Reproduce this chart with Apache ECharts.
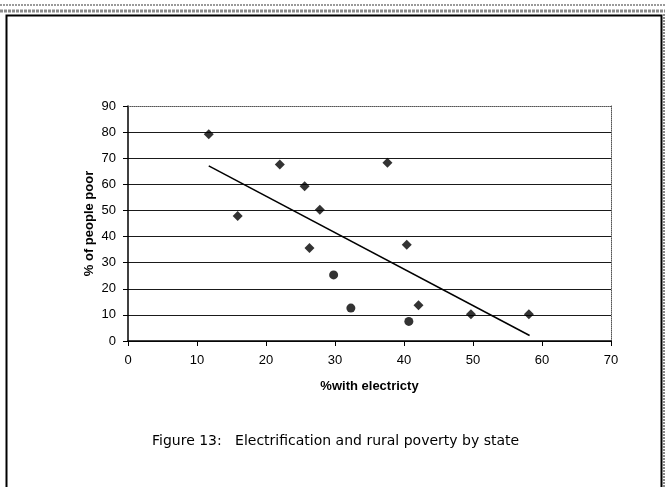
<!DOCTYPE html>
<html>
<head>
<meta charset="utf-8">
<script src="https://cdn.jsdelivr.net/npm/echarts@6/dist/echarts.min.js"></script>
<style>
  html, body { margin: 0; padding: 0; background: #fff; }
  #chart { width: 665px; height: 487px; }
</style>
</head>
<body>
<div id="chart"></div>
<script>
// Diamond-marked states: [% with electricity, % of people poor]
const diamondX = [11.7, 15.9, 22.0, 25.6, 27.8, 26.3, 37.6, 40.4, 42.1, 49.7, 58.1];
const diamondY = [79.2, 47.9, 67.6, 59.3, 50.3, 35.6, 68.3, 36.9, 13.7, 10.2, 10.2];
// Circle-marked states
const circleX = [29.8, 32.3, 40.7];
const circleY = [25.3, 12.6, 7.5];
// Linear trend line end points
const trendX = [11.7, 58.2];
const trendY = [67.1, 2.1];
// Axes
const xTicks = [0, 10, 20, 30, 40, 50, 60, 70];
const yTicks = [0, 10, 20, 30, 40, 50, 60, 70, 80, 90];
const xTitle = '%with electricty';
const yTitle = '% of people poor';
const caption = 'Figure 13:   Electrification and rural poverty by state';

const pairs = (xs, ys) => xs.map((x, i) => [x, ys[i]]);

const chart = echarts.init(document.getElementById('chart'), null, { renderer: 'canvas' });
const font = 'Liberation Sans, Arial, sans-serif';

// grid lines black, the top one (at 90) is left to the dotted frame
const splitColors = yTicks.map((t, i) => (i === yTicks.length - 1 ? 'rgba(0,0,0,0)' : '#1a1a1a'));

chart.setOption({
  animation: false,
  backgroundColor: '#ffffff',
  grid: { left: 128, right: 54, top: 106, bottom: 146, containLabel: false },
  xAxis: [{
    type: 'value', min: xTicks[0], max: xTicks[xTicks.length - 1], interval: 10,
    position: 'bottom',
    name: xTitle, nameLocation: 'middle', nameGap: 39,
    nameTextStyle: { fontFamily: font, fontSize: 13, fontWeight: 'bold', color: '#000' },
    axisLine: { show: true, onZero: false, lineStyle: { color: '#000', width: 1.5 } },
    axisTick: { show: true, length: 5, lineStyle: { color: '#000' } },
    axisLabel: { fontFamily: font, fontSize: 13, color: '#000', margin: 13 },
    splitLine: { show: false }
  }, {
    type: 'value', min: 0, max: 70, position: 'top',
    axisLine: { show: true, onZero: false, lineStyle: { color: '#555', width: 1, type: [1, 1] } },
    axisTick: { show: false }, axisLabel: { show: false }, splitLine: { show: false }
  }],
  yAxis: [{
    type: 'value', min: yTicks[0], max: yTicks[yTicks.length - 1], interval: 10,
    position: 'left',
    name: yTitle, nameLocation: 'middle', nameGap: 32, nameRotate: 90,
    nameMoveOverlap: false,
    nameTextStyle: { fontFamily: font, fontSize: 13, fontWeight: 'bold', color: '#000' },
    axisLine: { show: true, onZero: false, lineStyle: { color: '#000', width: 1.5 } },
    axisTick: { show: true, length: 5, lineStyle: { color: '#000' } },
    axisLabel: { fontFamily: font, fontSize: 13, color: '#000', margin: 12 },
    splitLine: { show: true, lineStyle: { color: splitColors, width: 1 } }
  }, {
    type: 'value', min: 0, max: 90, position: 'right',
    axisLine: { show: true, onZero: false, lineStyle: { color: '#555', width: 1, type: [1, 1] } },
    axisTick: { show: false }, axisLabel: { show: false }, splitLine: { show: false }
  }],
  series: [{
    type: 'line',
    data: pairs(trendX, trendY),
    symbol: 'none',
    lineStyle: { color: '#000', width: 1.5 },
    z: 3
  }, {
    type: 'scatter',
    data: pairs(diamondX, diamondY),
    symbol: 'diamond', symbolSize: 10,
    itemStyle: { color: '#000' },
    z: 4
  }, {
    type: 'scatter',
    data: pairs(circleX, circleY),
    symbol: 'circle', symbolSize: 9,
    itemStyle: { color: '#000' },
    z: 4
  }],
  graphic: [
    // scanned page hatch at top
    { type: 'line', shape: { x1: 0, y1: 5, x2: 665, y2: 5 },
      style: { stroke: '#9a9a9a', lineWidth: 2, lineDash: [2, 1] }, silent: true },
    { type: 'line', shape: { x1: 0, y1: 11, x2: 665, y2: 11 },
      style: { stroke: '#8a8a8a', lineWidth: 3, lineDash: [3, 1] }, silent: true },
    // right hatch
    { type: 'line', shape: { x1: 664, y1: 14, x2: 664, y2: 487 },
      style: { stroke: '#8a8a8a', lineWidth: 2, lineDash: [2, 1] }, silent: true },
    // figure border
    { type: 'rect', shape: { x: 6.5, y: 15.5, width: 655, height: 490 },
      style: { fill: 'none', stroke: '#000', lineWidth: 2 }, silent: true },
    // caption
    { type: 'text', left: 152, top: 434,
      style: { text: caption, fontFamily: 'DejaVu Sans, sans-serif', fontSize: 14, fill: '#000' } }
  ]
});
</script>
</body>
</html>
